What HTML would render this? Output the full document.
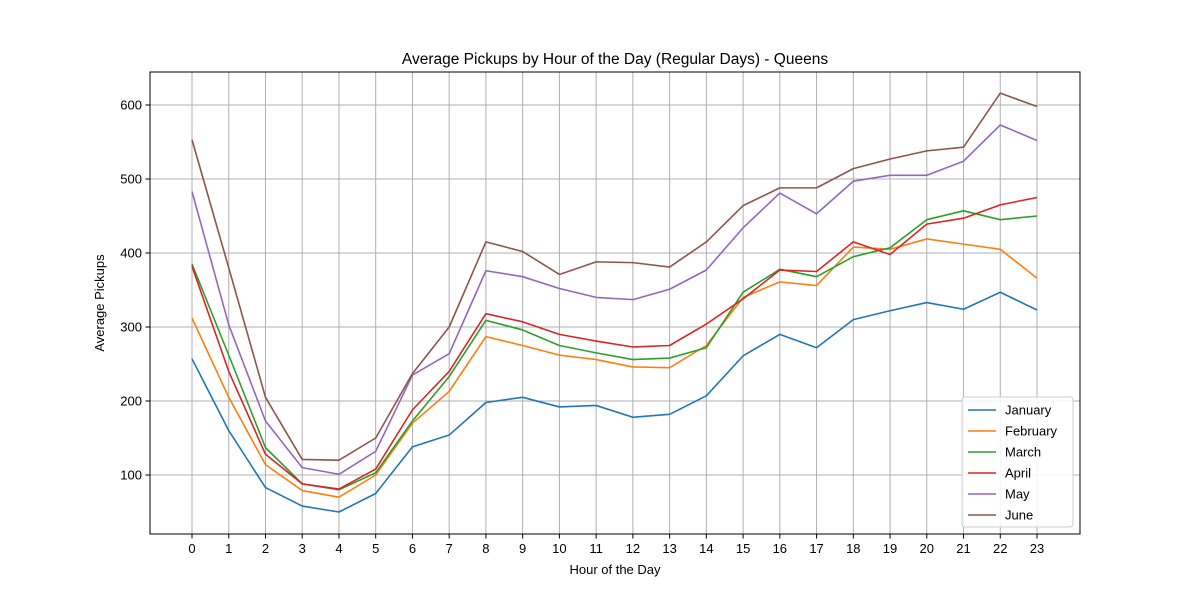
<!DOCTYPE html>
<html><head><meta charset="utf-8"><style>
body{margin:0;background:#fff;}
svg text{font-family:"Liberation Sans","DejaVu Sans",sans-serif;fill:#000;}
</style></head><body>
<svg id="chart" width="1200" height="600" viewBox="0 0 1200 600" xmlns="http://www.w3.org/2000/svg">
<rect width="1200" height="600" fill="#fff"/>
<g id="grid"></g>
<g id="lines"></g>
<rect x="150" y="72" width="930" height="462" fill="none" stroke="#000" stroke-width="1"/>
<g id="ticks"></g>
<text x="615" y="64" text-anchor="middle" font-size="15.5">Average Pickups by Hour of the Day (Regular Days) - Queens</text>
<text x="615" y="574" text-anchor="middle" font-size="13">Hour of the Day</text>
<text x="104" y="303" text-anchor="middle" font-size="13" transform="rotate(-90 104 303)">Average Pickups</text>
<g id="legend"></g>
</svg>
<script>
const hours = [0,1,2,3,4,5,6,7,8,9,10,11,12,13,14,15,16,17,18,19,20,21,22,23];
const yTicks = [100,200,300,400,500,600];
const seriesNames = ["January","February","March","April","May","June"];
const seriesColors = ["#1f77b4","#ff7f0e","#2ca02c","#d62728","#9467bd","#8c564b"];
const january = [257,160,83,58,50,75,138,154,198,205,192,194,178,182,207,261,290,272,310,322,333,324,347,323];
const february = [312,205,114,79,70,100,170,213,287,275,262,256,246,245,275,340,361,356,408,405,419,412,405,366];
const march = [385,262,137,88,80,103,173,233,309,296,275,265,256,258,272,347,378,368,395,407,445,457,445,450];
const april = [382,240,128,88,81,108,188,240,318,307,290,281,273,275,304,338,377,375,415,398,439,447,465,475];
const may = [483,303,173,110,101,132,235,264,376,368,352,340,337,351,377,434,481,453,497,505,505,524,573,552];
const june = [553,380,205,121,120,150,237,300,415,402,371,388,387,381,415,464,488,488,514,527,538,543,616,598];
const seriesData = [january,february,march,april,may,june];

const NS="http://www.w3.org/2000/svg";
function xs(h){return 192+h*(1037-192)/23;}
function ys(v){return 475-(v-100)*0.74;}
function mk(tag,attrs,parent){const e=document.createElementNS(NS,tag);for(const k in attrs)e.setAttribute(k,attrs[k]);parent.appendChild(e);return e;}
const grid=document.getElementById('grid'),ticks=document.getElementById('ticks'),lines=document.getElementById('lines'),legend=document.getElementById('legend');
hours.forEach(h=>{
  const x=xs(h);
  const g=mk('line',{x1:x,x2:x,y1:72,y2:534,stroke:'#b0b0b0','stroke-width':1},grid);
  
  
  mk('line',{x1:x,x2:x,y1:534,y2:538.5,stroke:'#000'},ticks);
  const t=mk('text',{x:x,y:553,'text-anchor':'middle','font-size':13},ticks);
  t.textContent=h;
  
  
});
yTicks.forEach(v=>{
  const y=ys(v);
  const g=mk('line',{x1:150,x2:1080,y1:y,y2:y,stroke:'#b0b0b0','stroke-width':1},grid);
  
  
  mk('line',{x1:145.5,x2:150,y1:y,y2:y,stroke:'#000'},ticks);
  const t=mk('text',{x:142,y:y+4.5,'text-anchor':'end','font-size':13},ticks);
  t.textContent=v;
  
  
});
seriesData.forEach((d,i)=>{
  const p=mk('polyline',{points:d.map((v,h)=>xs(hours[h])+','+ys(v)).join(' '),fill:'none',stroke:seriesColors[i],'stroke-width':1.6,'stroke-linejoin':'round'},lines);
  
  
});
const box=mk('rect',{x:962,y:397,width:111,height:130,rx:3,fill:'#fff','fill-opacity':0.85,stroke:'#ccc'},legend);


seriesNames.forEach((n,i)=>{
  const y=410+i*21;
  mk('line',{x1:968,x2:996,y1:y,y2:y,stroke:seriesColors[i],'stroke-width':1.6},legend);
  const t=mk('text',{x:1005,y:y+4.5,'font-size':13},legend);
  t.textContent=n;
  
  
});
</script>
</body></html>
